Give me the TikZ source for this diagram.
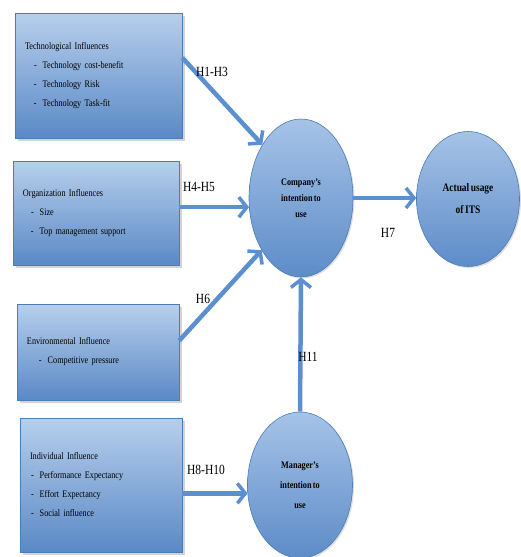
\documentclass[tikz,border=0pt]{standalone}
\usepackage{fontspec}
\setmainfont{Liberation Serif}[FakeStretch=0.82,WordSpace=0.65]
\usetikzlibrary{shapes.geometric,arrows.meta,shadows}
\definecolor{boxtop}{HTML}{B7CFEC}
\definecolor{boxbot}{HTML}{5A89C6}
\definecolor{boxline}{HTML}{4A7CB8}
\definecolor{elltop}{HTML}{A6C3E7}
\definecolor{ellbot}{HTML}{5D8CC8}
\definecolor{arrc}{HTML}{5B8FD0}
\newcommand\bl[1]{\hspace*{#1}-\hspace*{6pt}}
\begin{document}
\begin{tikzpicture}[x=1pt,y=-1pt,
  box/.style={draw=boxline, line width=0.6pt, top color=boxtop, bottom color=boxbot,
    align=left, inner xsep=10pt, font=\fontsize{10}{19}\selectfont,
    drop shadow={shadow xshift=2.5pt,shadow yshift=-2.5pt,opacity=0.35}},
  ell/.style={ellipse, draw=boxline, line width=0.6pt, top color=elltop, bottom color=ellbot,
    inner sep=0pt, align=center,
    drop shadow={shadow xshift=1.5pt,shadow yshift=-1.5pt,opacity=0.25}},
  arr/.style={draw=arrc, line width=4.5pt, -{Straight Barb[length=8pt,width=20pt,line width=3.5pt]}},
  lab/.style={font=\fontsize{14}{14}\selectfont, inner sep=0pt}]
\useasboundingbox (0,0) rectangle (520,557);

\node[box, minimum width=167pt, minimum height=125pt, text width=147pt] (box1) at (98.5,75.5)
  {Technological Influences\\ \bl{9pt}Technology cost-benefit\\ \bl{9pt}Technology Risk\\ \bl{9pt}Technology Task-fit};
\node[box, minimum width=166pt, minimum height=104pt, text width=146pt] (box2) at (96,213)
  {Organization Influences\\ \bl{8pt}Size\\ \bl{8pt}Top management support};
\node[box, minimum width=162pt, minimum height=96pt, text width=142pt] (box3) at (98,352)
  {Environmental Influence\\ \bl{12pt}Competitive pressure};
\node[box, minimum width=162pt, minimum height=134pt, text width=142pt] (box4) at (101,485)
  {Individual Influence\\ \bl{1pt}Performance Expectancy\\ \bl{1pt}Effort Expectancy\\ \bl{1pt}Social influence};

\node[ell, minimum width=104pt, minimum height=158pt, font=\bfseries\fontsize{10}{16}\selectfont] (comp) at (301,198)
  {Company's\\intention to\\use};
\node[ell, minimum width=103pt, minimum height=135pt, font=\bfseries\fontsize{11.5}{22}\selectfont] (act) at (468,199)
  {Actual usage\\of ITS};
\node[ell, minimum width=105pt, minimum height=146pt, font=\bfseries\fontsize{10}{20}\selectfont] (mgr) at (300,485)
  {Manager's\\intention to\\use};

\draw[arr] (box1.12) -- (comp.126);
\draw[arr] (comp.190 -| box2.east) -- (comp.190);
\draw[arr] (box3.8) -- (comp.233);
\draw[arr] (comp.east) -- (comp.east -| act.west);
\draw[arr] (mgr.north) -- (comp.south);
\draw[arr] (mgr.189 -| box4.east) -- (mgr.189);

\node[lab] (l1) at (212,72) {H1-H3};
\node[lab] (l2) at (199,187) {H4-H5};
\node[lab] (l3) at (203,299) {H6};
\node[lab] (l4) at (388,233) {H7};
\node[lab] (l5) at (308,357) {H11};
\node[lab] (l6) at (206,470) {H8-H10};
\end{tikzpicture}
\end{document}
